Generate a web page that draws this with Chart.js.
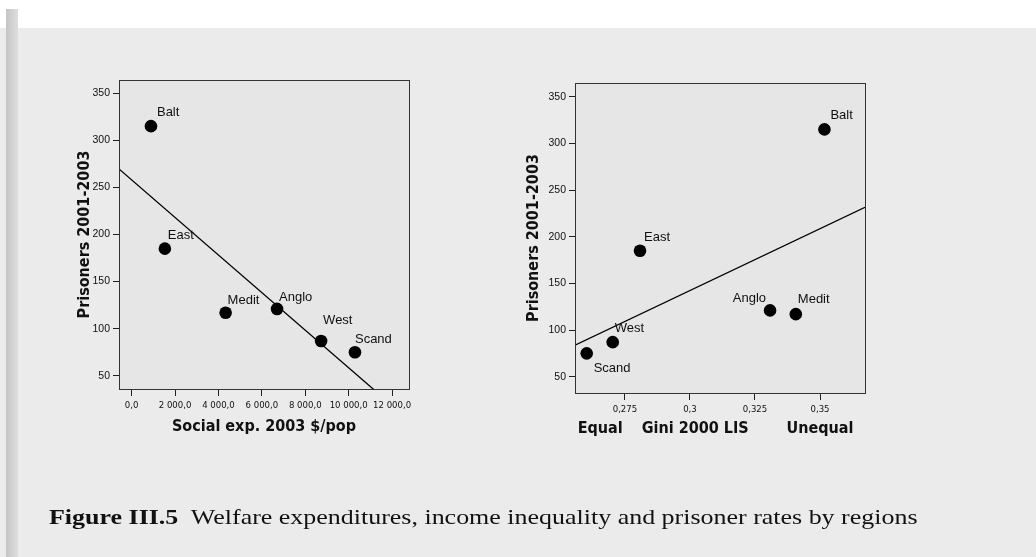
<!DOCTYPE html>
<html>
<head>
<meta charset="utf-8">
<script src="https://cdn.jsdelivr.net/npm/chart.js@4.4.1/dist/chart.umd.min.js"></script>
<style>
  html, body { margin: 0; padding: 0; }
  body { width: 1036px; height: 557px; position: relative; overflow: hidden; background: #ebebeb; }
  #topStrip { position: absolute; left: 0; top: 0; width: 1036px; height: 28px; background: #fff; }
  #edge { position: absolute; left: 6px; top: 9px; width: 12px; height: 548px; background: linear-gradient(to right, #c4c4c4, #dedede); }
  canvas { position: absolute; left: 0; top: 0; }
  #caption { position: absolute; left: 49px; top: 507px; font-family: "Liberation Serif", "Times New Roman", serif; font-size: 21px; line-height: 1; color: #111; white-space: nowrap; transform-origin: 0 0; }
</style>
</head>
<body>
<div id="topStrip"></div>
<div id="edge"></div>
<canvas id="socialChart" width="1036" height="557"></canvas>
<canvas id="giniChart" width="1036" height="557"></canvas>
<div id="caption"><b>Figure III.5</b>&nbsp; Welfare expenditures, income inequality and prisoner rates by regions</div>

<script>
// Regions and values
const regions = ['Balt', 'East', 'Medit', 'Anglo', 'West', 'Scand'];
const prisoners = [315, 185, 117, 121, 87, 75];
const socialExp = [890, 1530, 4330, 6700, 8730, 10290];
const gini = [0.3517, 0.2808, 0.3407, 0.3308, 0.2703, 0.2603];

// tick labels
const socialTicks = [0, 2000, 4000, 6000, 8000, 10000, 12000];
const socialTickLabels = ['0,0', '2 000,0', '4 000,0', '6 000,0', '8 000,0', '10 000,0', '12 000,0'];
const giniTicks = [0.275, 0.3, 0.325, 0.35];
const giniTickLabels = ['0,275', '0,3', '0,325', '0,35'];
const prisonerTicks = [50, 100, 150, 200, 250, 300, 350];

// text under the gini axis, anchored at an x value
const giniNotes = [['Equal', 0.2655], ['Gini 2000 LIS', 0.302], ['Unequal', 0.35]];

const SANS = '"Liberation Sans", Arial, sans-serif';
const NARROW = '"Liberation Sans Narrow", "Arial Narrow", "DejaVu Sans Condensed", sans-serif';

Chart.defaults.font.family = SANS;
Chart.defaults.color = '#111';

// least squares line through the points
function fitLine(xs, ys) {
  const n = xs.length;
  const mx = xs.reduce((a, b) => a + b, 0) / n;
  const my = ys.reduce((a, b) => a + b, 0) / n;
  let sxy = 0, sxx = 0;
  xs.forEach((x, i) => { sxy += (x - mx) * (ys[i] - my); sxx += (x - mx) * (x - mx); });
  const b = sxy / sxx;
  return x => my + b * (x - mx);
}

const framePlugin = {
  id: 'frame',
  beforeDatasetsDraw(chart) {
    const { ctx, chartArea: a } = chart;
    ctx.save();
    ctx.fillStyle = '#e6e6e6';
    ctx.fillRect(a.left, a.top, a.right - a.left, a.bottom - a.top);
    ctx.restore();
  },
  afterDraw(chart) {
    const { ctx, chartArea: a } = chart;
    ctx.save();
    ctx.strokeStyle = '#333';
    ctx.lineWidth = 1;
    ctx.strokeRect(a.left + 0.5, a.top + 0.5, a.right - a.left, a.bottom - a.top);
    ctx.restore();
  }
};

const labelPlugin = {
  id: 'pointLabels',
  afterDatasetsDraw(chart, args, opts) {
    const ctx = chart.ctx;
    const meta = chart.getDatasetMeta(0);
    ctx.save();
    ctx.font = '13px ' + SANS;
    ctx.fillStyle = '#111';
    ctx.textBaseline = 'alphabetic';
    meta.data.forEach((pt, i) => {
      const p = opts.place[regions[i]] || [2, -9, 'left'];
      ctx.textAlign = p[2] || 'left';
      ctx.fillText(regions[i], pt.x + p[0], pt.y + p[1]);
    });
    // extra notes under the x axis
    if (opts.notes) {
      ctx.font = 'bold 16px ' + NARROW;
      ctx.textAlign = 'center';
      ctx.textBaseline = 'middle';
      const xs = chart.scales.x;
      opts.notes.forEach(([txt, v]) => {
        ctx.fillText(txt, xs.getPixelForValue(v), chart.chartArea.bottom + 36);
      });
    }
    ctx.restore();
  }
};

function makeChart(id, o) {
  const f = fitLine(o.xs, prisoners);
  return new Chart(document.getElementById(id), {
    type: 'scatter',
    data: {
      datasets: [
        {
          data: o.xs.map((x, i) => ({ x: x, y: prisoners[i] })),
          pointRadius: 6.3,
          pointHoverRadius: 6.3,
          backgroundColor: '#000',
          borderWidth: 0
        },
        {
          type: 'line',
          data: [{ x: o.xMin, y: f(o.xMin) }, { x: o.xMax, y: f(o.xMax) }],
          borderColor: '#000',
          borderWidth: 1.3,
          pointRadius: 0,
          fill: false
        }
      ]
    },
    options: {
      responsive: false,
      animation: false,
      events: [],
      layout: { padding: o.padding },
      plugins: {
        legend: { display: false },
        tooltip: { enabled: false },
        pointLabels: { place: o.place, notes: o.notes }
      },
      scales: {
        x: {
          type: 'linear',
          min: o.xMin,
          max: o.xMax,
          afterBuildTicks: s => { s.ticks = o.ticks.map(v => ({ value: v })); },
          afterFit: s => { s.height = o.xAxisH; },
          grid: { drawOnChartArea: false, tickLength: 7, color: '#222', lineWidth: 1 },
          border: { display: false },
          ticks: {
            padding: 4,
            maxRotation: 0,
            autoSkip: false,
            font: { size: 9.5, family: NARROW },
            color: '#111',
            callback: (v, i) => o.tickLabels[i]
          },
          title: o.xTitle
            ? { display: true, text: o.xTitle, font: { size: 16, weight: 'bold', family: NARROW }, color: '#111', padding: 0 }
            : { display: false }
        },
        y: {
          min: o.yMin,
          max: o.yMax,
          afterBuildTicks: s => { s.ticks = prisonerTicks.map(v => ({ value: v })); },
          afterFit: s => { s.width = o.yAxisW; },
          grid: { drawOnChartArea: false, tickLength: 6, color: '#222', lineWidth: 1 },
          border: { display: false },
          ticks: { padding: 3, font: { size: 10.5 }, color: '#111' },
          title: { display: true, text: 'Prisoners 2001-2003', font: { size: 16, weight: 'bold', family: NARROW }, color: '#111', padding: 0 }
        }
      }
    },
    plugins: [framePlugin, labelPlugin]
  });
}

makeChart('socialChart', {
  xs: socialExp,
  xMin: -583, xMax: 12780,
  yMin: 36, yMax: 364,
  ticks: socialTicks, tickLabels: socialTickLabels,
  xTitle: 'Social exp. 2003 $/pop',
  padding: { left: 75, top: 80, right: 627, bottom: 121 },
  yAxisW: 44, xAxisH: 47,
  place: {
    Balt: [6, -10], East: [3, -10], Medit: [2, -9],
    Anglo: [2, -8], West: [2, -17], Scand: [0, -9]
  }
});

makeChart('giniChart', {
  xs: gini,
  xMin: 0.2558, xMax: 0.3673,
  yMin: 32.5, yMax: 364.7,
  ticks: giniTicks, tickLabels: giniTickLabels,
  xTitle: null,
  notes: giniNotes,
  padding: { left: 524, top: 83, right: 171, bottom: 124 },
  yAxisW: 51, xAxisH: 40,
  place: {
    Balt: [6, -10], East: [4, -10], Anglo: [-4, -8, 'right'],
    Medit: [2, -11], West: [2, -10], Scand: [7, 19]
  }
});

// stretch caption to the width it has on the page
const cap = document.getElementById('caption');
cap.style.transform = 'scaleX(' + (869 / cap.offsetWidth) + ')';
</script>
</body>
</html>
